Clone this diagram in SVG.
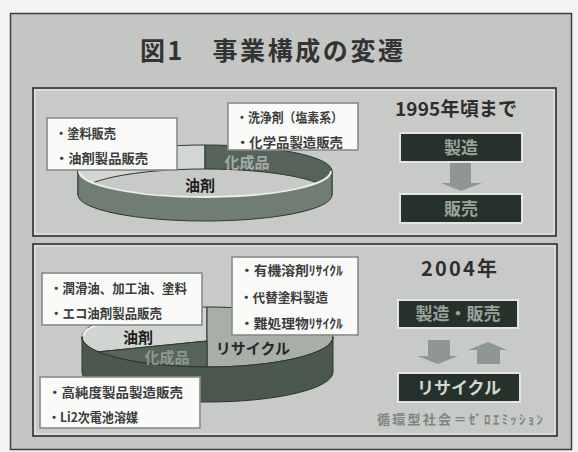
<svg xmlns="http://www.w3.org/2000/svg" width="578" height="452" viewBox="0 0 578 452">
<style>
.t{font-family:"Noto Sans CJK JP","Noto Sans",sans-serif;font-weight:bold}
.panel{fill:#c8cac7;stroke:#2e2e2e;stroke-width:1.6}
.pin{fill:none;stroke:#ececec;stroke-width:1}
.wbox{fill:#fafaf8;stroke:#878c88;stroke-width:1.6}
.dbox{fill:#27312c;stroke:#e2e5e2;stroke-width:2}
.bt{font-size:13px;fill:#3b3e3c}
.dt{font-size:17px;fill:#98a39b;text-anchor:middle}
.arw{fill:#8e9792}
.edge{stroke:#2d3630;stroke-width:1}
</style>
<rect x="0" y="0" width="578" height="452" fill="#f3f3f1"/>
<rect x="10.5" y="13.5" width="561" height="436" fill="#c4c6c3" stroke="#3d3d3d" stroke-width="1.5"/>
<text class="t" x="140" y="60" font-size="25" fill="#333" textLength="263" lengthAdjust="spacing">図1　事業構成の変遷</text>

<g id="panel1">
<rect class="panel" x="33" y="88" width="523" height="148"/>
<rect class="pin" x="35" y="90" width="519" height="144"/>
</g>
<g id="panel2">
<rect class="panel" x="33" y="244" width="524" height="192"/>
<rect class="pin" x="35" y="246" width="520" height="188"/>
</g>

<g id="ring1">
<path d="M78,171 A127,26 0 0 1 205,145 L205,169 A127,26 0 0 0 78,195 Z" fill="#d3d6d2" class="edge"/>
<path d="M205,145 A127,26 0 0 1 332,171 L332,195 A127,26 0 0 0 205,169 Z" fill="#56635b" class="edge"/>
<path d="M78,171 A127,26 0 0 0 332,171 L332,195 A127,26 0 0 1 78,195 Z" fill="#6f7d72" class="edge"/>
<path d="M79,171 A126,26 0 0 0 331,171" fill="none" stroke="#eceeec" stroke-width="2"/>
<text class="t" x="247" y="168" font-size="15" font-weight="normal" fill="#a3aca5" text-anchor="middle">化成品</text>
<text class="t" x="200" y="191" font-size="15" fill="#1e1e1e" text-anchor="middle">油剤</text>
</g>

<g id="box-top-left">
<rect class="wbox" x="47" y="118" width="130" height="52"/>
<text class="t bt" x="55" y="138" textLength="61" lengthAdjust="spacingAndGlyphs">・塗料販売</text>
<text class="t bt" x="55" y="163" textLength="93" lengthAdjust="spacingAndGlyphs">・油剤製品販売</text>
</g>
<g id="box-top-right">
<rect class="wbox" x="228" y="103" width="130" height="47"/>
<text class="t bt" x="236" y="122" textLength="107" lengthAdjust="spacingAndGlyphs">・洗浄剤（塩素系）</text>
<text class="t bt" x="236" y="147" textLength="107" lengthAdjust="spacingAndGlyphs">・化学品製造販売</text>
</g>

<g id="year1995">
<text class="t" x="395" y="116" font-size="19" fill="#2e2e2e" textLength="122" lengthAdjust="spacing">1995年頃まで</text>
</g>
<g id="box-seizo">
<rect class="dbox" x="400" y="133" width="122" height="29"/>
<text class="t dt" x="461" y="154">製造</text>
</g>
<g id="box-hanbai">
<rect class="dbox" x="400" y="194" width="122" height="29"/>
<text class="t dt" x="461" y="215">販売</text>
</g>

<g id="ring2">
<path d="M82,337 A125,30 0 0 1 207,307 L207,341 L97,352 C89,350 82,345 82,337 Z" fill="#d1d5d1" class="edge"/>
<path d="M207,307 A126,30 0 0 1 333,337 A126,30 0 0 1 207,367 Z" fill="#a8afa9" class="edge"/>
<path d="M97,352 L207,341 L207,367 A125,30 0 0 1 82,337 C82,345 89,350 97,352 Z" fill="#56645a" class="edge"/>
<path d="M82,337 A125.5,30 0 0 0 333,337 L333,372 A125.5,30 0 0 1 82,372 Z" fill="#4b584f" class="edge"/>
<path d="M83,336 C84,330 90,327 98,325" fill="none" stroke="#eef0ee" stroke-width="2"/>
<text class="t" x="138" y="343" font-size="15" fill="#1e1e1e" text-anchor="middle">油剤</text>
<text class="t" x="167" y="363" font-size="15" font-weight="normal" fill="#8f9891" text-anchor="middle">化成品</text>
<text class="t" x="253" y="354" font-size="15" fill="#262626" text-anchor="middle">リサイクル</text>
</g>

<g id="box-bottom-left">
<rect class="wbox" x="42" y="273" width="160" height="52"/>
<text class="t bt" x="50" y="293" textLength="137" lengthAdjust="spacingAndGlyphs">・潤滑油、加工油、塗料</text>
<text class="t bt" x="50" y="318" textLength="112" lengthAdjust="spacingAndGlyphs">・エコ油剤製品販売</text>
</g>
<g id="box-bottom-right">
<rect class="wbox" x="232" y="257" width="126" height="78"/>
<text class="t bt" x="240" y="275" textLength="103" lengthAdjust="spacingAndGlyphs">・有機溶剤ﾘｻｲｸﾙ</text>
<text class="t bt" x="240" y="302" textLength="88" lengthAdjust="spacingAndGlyphs">・代替塗料製造</text>
<text class="t bt" x="240" y="328" textLength="103" lengthAdjust="spacingAndGlyphs">・難処理物ﾘｻｲｸﾙ</text>
</g>
<g id="box-bottom">
<rect class="wbox" x="40" y="377" width="160" height="51"/>
<text class="t bt" x="48" y="397" textLength="135" lengthAdjust="spacingAndGlyphs">・高純度製品製造販売</text>
<text class="t bt" x="48" y="422" textLength="90" lengthAdjust="spacingAndGlyphs">・Li2次電池溶媒</text>
</g>

<g id="year2004">
<text class="t" x="421" y="276" font-size="20" fill="#2e2e2e" textLength="76" lengthAdjust="spacing">2004年</text>
</g>
<g id="box-seizo-hanbai">
<rect class="dbox" x="398" y="300" width="120" height="28"/>
<text class="t dt" x="458" y="320">製造・販売</text>
</g>
<g id="box-recycle">
<rect class="dbox" x="398" y="373" width="122" height="29"/>
<text class="t dt" x="459" y="394" style="fill:#d3d7d3">リサイクル</text>
</g>
<g id="note">
<text class="t" x="377" y="424" font-size="13" fill="#7d857f" textLength="166" lengthAdjust="spacing">循環型社会＝ｾﾞﾛｴﾐｯｼｮﾝ</text>
</g>

<g id="connectors">
<path class="arw" d="M450,163 H471 V183 H482 L461,191 L441,183 H450 Z"/>
<path class="arw" d="M428,340 H450 V356 H458 L438,364 L417,356 H428 Z"/>
<path class="arw" d="M477,364 H500 V350 H507 L488,342 L468,350 H477 Z"/>
</g>
</svg>
